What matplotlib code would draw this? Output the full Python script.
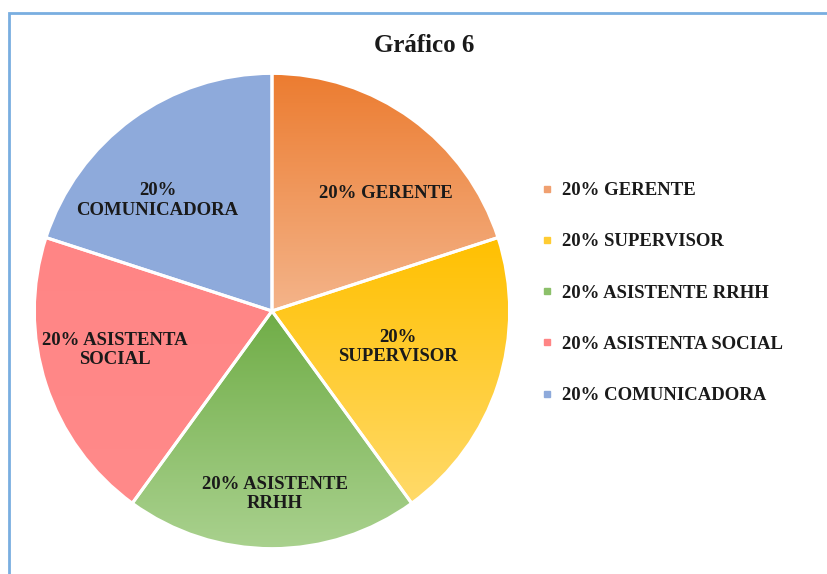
import matplotlib.pyplot as plt
import numpy as np
from matplotlib.colors import LinearSegmentedColormap
from matplotlib.lines import Line2D
from matplotlib.patches import Rectangle

# datos del grafico
labels = ["20% GERENTE", "20% SUPERVISOR", "20% ASISTENTE RRHH",
          "20% ASISTENTA SOCIAL", "20% COMUNICADORA"]
inner_labels = ["20% GERENTE", "20%\nSUPERVISOR", "20% ASISTENTE\nRRHH",
                "20% ASISTENTA\nSOCIAL", "20%\nCOMUNICADORA"]
values = [20, 20, 20, 20, 20]

# colores (arriba -> abajo del gradiente)
top_colors = ["#EC7C30", "#FFC000", "#70AD47", "#FF8585", "#8EAADB"]
bottom_colors = ["#F4B48A", "#FFDA6A", "#A9D18E", "#FF8A8A", "#8FABDC"]
legend_colors = ["#F0A070", "#FFCC33", "#8CC06A", "#FF8585", "#8EAADB"]
label_radius = [0.69, 0.55, 0.77, 0.68, 0.67]
label_angle_shift = [-8, 2, 1, -4, 10]

font = "Liberation Serif"

W, H = 828, 574
fig = plt.figure(figsize=(W / 100, H / 100), dpi=100)

# marco azul
fig.patches.append(Rectangle((9 / W, -0.05), 1.1, 1 - 13 / H + 0.05,
                             transform=fig.transFigure, fill=False,
                             edgecolor="#79AEE0", linewidth=2))

cx, cy, r = 272, H - 311, 240
ax = fig.add_axes([(cx - r) / W, (cy - r) / H, 2 * r / W, 2 * r / H])

wedges, _ = ax.pie(values, startangle=90, counterclock=False, radius=1,
                   colors=top_colors,
                   wedgeprops=dict(edgecolor="white", linewidth=2.2))

for i, w in enumerate(wedges):
    # gradiente vertical sobre la caja de la porcion
    verts = w.get_path().vertices
    ymin, ymax = verts[:, 1].min(), verts[:, 1].max()
    xmin, xmax = verts[:, 0].min(), verts[:, 0].max()
    cmap = LinearSegmentedColormap.from_list("g%d" % i, [bottom_colors[i], top_colors[i]])
    grad = np.linspace(0, 1, 256).reshape(-1, 1)
    im = ax.imshow(grad, cmap=cmap, origin="lower", aspect="auto",
                   extent=[xmin, xmax, ymin, ymax], zorder=w.get_zorder())
    im.set_clip_path(w)
    w.set_facecolor("none")
    w.set_zorder(im.get_zorder() + 0.5)

    ang = np.deg2rad((w.theta1 + w.theta2) / 2 + label_angle_shift[i])
    ax.text(label_radius[i] * np.cos(ang), label_radius[i] * np.sin(ang),
            inner_labels[i], ha="center", va="center", fontsize=13.5,
            fontweight="bold", family=font, color="#1a1a1a", zorder=5,
            linespacing=1.2)

ax.set_xlim(-1.01, 1.01)
ax.set_ylim(-1.01, 1.01)
ax.set_aspect("equal")
ax.axis("off")

fig.text(424 / W, 1 - 45 / H, "Gráfico 6", ha="center", va="center",
         fontsize=18, fontweight="bold", family=font, color="#1a1a1a")

handles = [Line2D([], [], marker="s", linestyle="none", markersize=5,
                  markerfacecolor=c, markeredgecolor=c) for c in legend_colors]
leg = fig.legend(handles, labels, loc="upper left",
                 bbox_to_anchor=(541 / W, 1 - 182 / H), frameon=False,
                 prop=dict(family=font, weight="bold", size=13.5),
                 labelspacing=1.82, handlelength=0.6, handletextpad=0.5,
                 borderpad=0, borderaxespad=0)
for t in leg.get_texts():
    t.set_color("#1a1a1a")

plt.savefig("out.png", dpi=100)
